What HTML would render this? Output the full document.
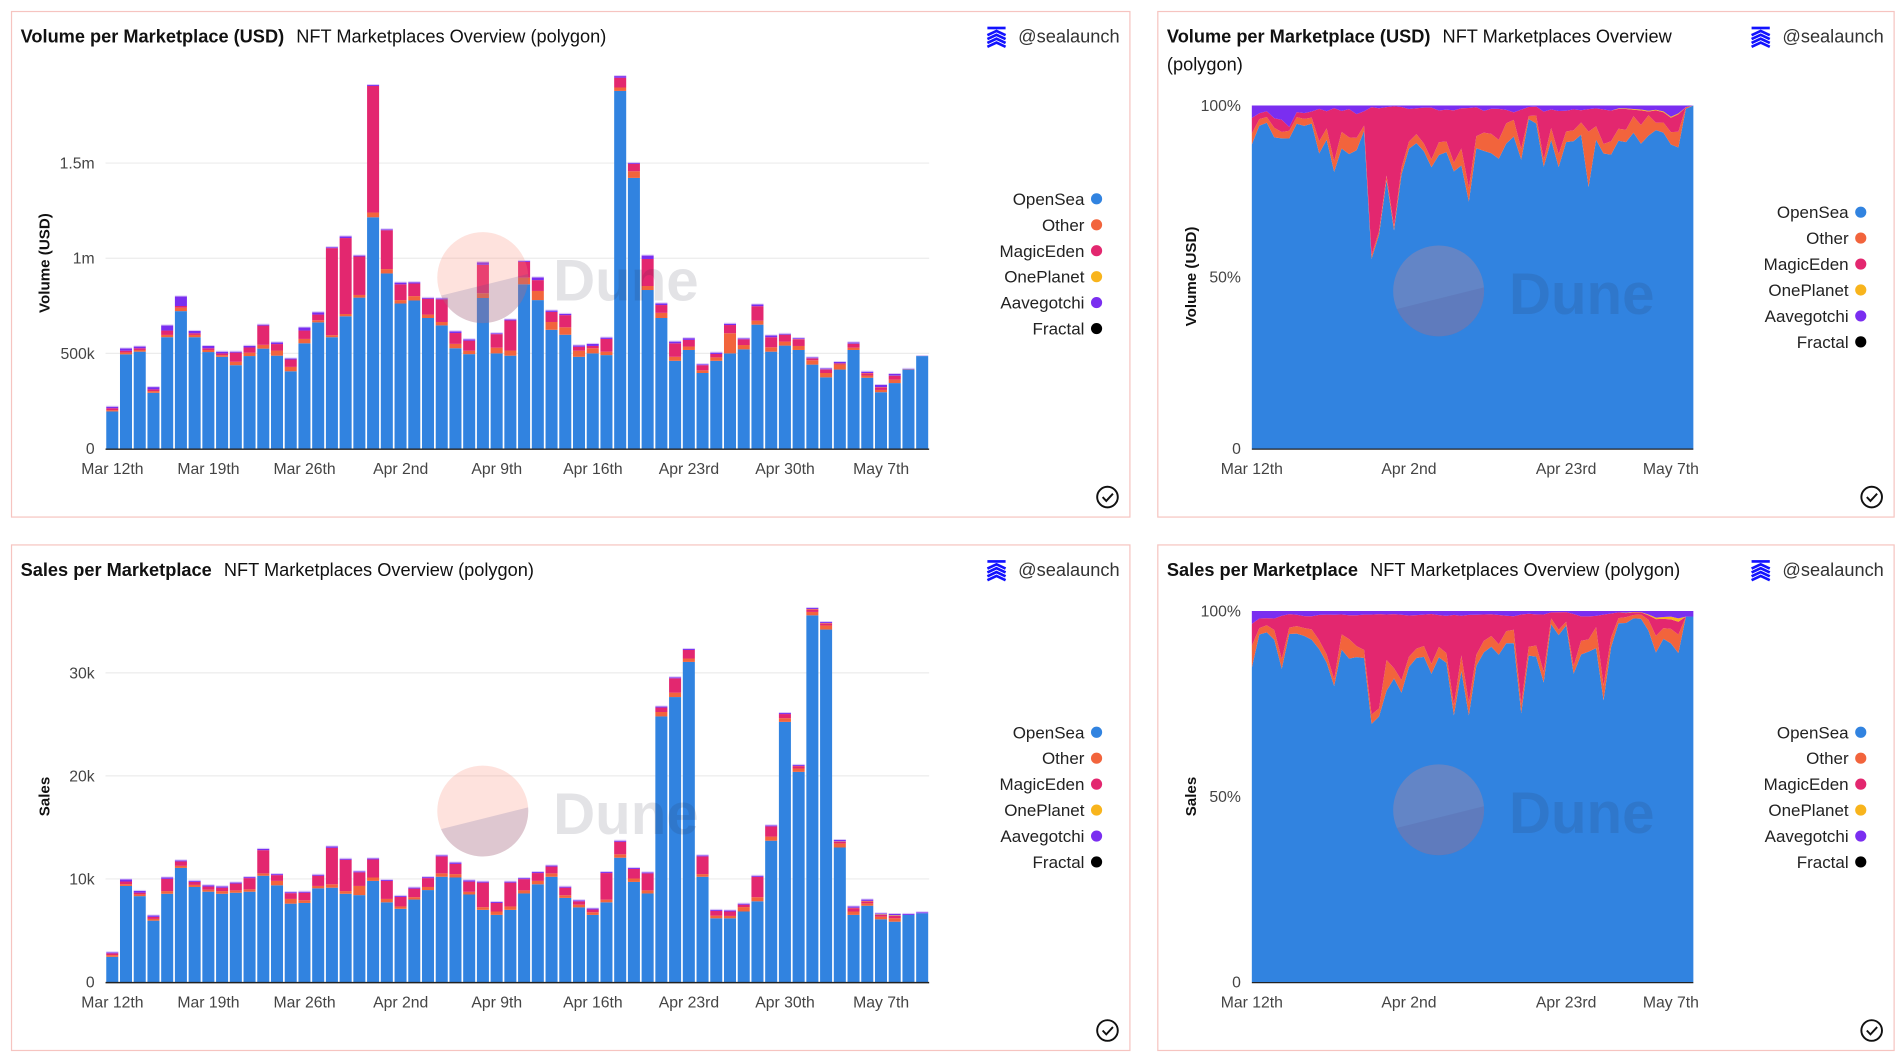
<!DOCTYPE html>
<html><head><meta charset="utf-8">
<style>
html,body{margin:0;padding:0;background:#fff;width:1902px;height:1062px;overflow:hidden}
svg{display:block;font-family:"Liberation Sans",sans-serif}
</style></head>
<body>
<svg id="root" width="1902" height="1062" viewBox="0 0 1568 876" preserveAspectRatio="none" xmlns="http://www.w3.org/2000/svg"></svg>
<script>
// ---- data (volume in thousands USD, sales in thousands) ----
const seriesNames = ["OpenSea","Other","MagicEden","OnePlanet","Aavegotchi","Fractal"];
const seriesColors = ["#3183e0","#f2643c","#e3276f","#f8b41c","#7a2ef0","#000000"];
const volOpenSea = [195,495,509,293,585,722,585,507,482,438,486,525,488,406,553,663,585,695,793,1215,920,762,778,686,647,527,496,791,500,488,863,780,624,598,482,500,491,1879,1422,833,686,461,518,397,461,500,521,651,509,541,518,441,374,415,518,372,296,344,415,486];
const volOther = [7,10,9,9,12,18,12,11,9,18,18,20,27,23,23,11,11,12,14,25,23,18,23,18,18,23,18,25,30,27,35,48,41,39,32,27,18,18,35,21,27,21,18,14,18,106,23,21,23,21,21,23,23,27,12,12,12,18,2,0];
const volMagicEden = [10,9,9,9,23,9,9,9,9,48,27,101,34,39,44,30,457,399,202,665,204,83,66,83,119,57,53,149,71,158,83,57,53,64,21,12,67,51,39,142,41,71,35,27,18,43,30,76,53,35,35,9,18,5,20,12,14,20,0,0];
const volOnePlanet = [0,0,0,0,0,0,0,0,0,0,0,0,0,0,0,0,0,0,0,0,0,0,0,0,0,0,0,0,0,0,0,0,0,0,0,0,0,0,0,0,0,0,0,0,0,0,0,0,0,1,1,1,1,1,1,1,1,1,0,0];
const volAavegotchi = [8,12,9,12,27,50,12,12,9,5,9,5,9,5,16,12,5,9,5,5,5,9,7,5,5,9,7,14,5,5,5,14,7,7,7,11,7,9,5,18,9,9,9,5,7,7,5,9,9,5,5,5,5,7,7,7,11,9,2,0];
const volFractal = new Array(60).fill(0);

const salesOpenSea = [2.44,9.32,8.33,5.95,8.56,11.07,9.22,8.76,8.56,8.66,8.76,10.31,9.38,7.6,7.67,9.09,9.15,8.56,8.43,9.81,7.73,7.1,8.0,8.92,10.21,10.14,8.49,7.0,6.51,7.0,8.59,9.48,10.21,8.16,7.24,6.51,7.73,12.06,9.71,8.59,25.77,27.65,31.06,10.21,6.18,6.18,6.84,7.83,13.71,25.24,20.39,35.58,34.2,13.05,6.51,7.4,6.08,5.85,6.51,6.67];
const salesOther = [.17,.17,.17,.17,.26,.2,.2,.2,.26,.23,.23,.23,.43,.46,.26,.23,.33,.26,.89,.33,.33,.23,.23,.3,.33,.33,.26,.26,.33,.33,.3,.33,.33,.26,.26,.26,.26,.33,.33,.3,.43,.43,.33,.26,.26,.23,.43,.4,.4,.36,.33,.33,.4,.4,.33,.23,.26,.33,0,0];
const salesMagicEden = [.17,.26,.17,.2,1.19,.43,.3,.3,.33,.66,1.09,2.25,.56,.56,.73,.99,3.54,3.04,1.32,1.75,1.75,.93,.83,.86,1.65,.99,.99,2.38,.83,2.31,1.09,.76,.66,.73,.33,.26,2.58,1.22,.93,1.65,.43,1.39,.83,1.72,.46,.43,.23,1.98,.99,.4,.23,.26,.2,.17,.33,.2,.17,.23,0,0];
const salesOnePlanet = [0,0,0,0,0,0,0,0,0,0,0,0,0,0,0,0,0,0,0,0,0,0,0,0,0,0,0,0,0,0,0,0,0,0,0,0,0,0,0,0,0,0,0,0,0,0,0,0,0,0,.02,.03,.03,.03,.03,.04,.05,.06,0,0];
const salesAavegotchi = [.1,.2,.17,.13,.13,.1,.1,.13,.13,.1,.1,.13,.1,.1,.1,.1,.13,.1,.1,.1,.1,.1,.1,.1,.1,.13,.13,.1,.1,.1,.1,.1,.1,.1,.1,.1,.1,.1,.1,.1,.1,.1,.1,.1,.1,.1,.1,.1,.1,.1,.1,.1,.1,.13,.13,.13,.1,.13,.1,.1];
const salesFractal = new Array(60).fill(0);

const volTicks = [0,500,1000,1500];
const volTickLabels = ["0","500k","1m","1.5m"];
const salesTicks = [0,10,20,30];
const salesTickLabels = ["0","10k","20k","30k"];
const pctTicks = [0,0.5,1];
const pctTickLabels = ["0","50%","100%"];
const barXTickIdx = [0,7,14,21,28,35,42,49,56];
const barXTickLabels = ["Mar 12th","Mar 19th","Mar 26th","Apr 2nd","Apr 9th","Apr 16th","Apr 23rd","Apr 30th","May 7th"];
const areaXTickIdx = [0,21,42,56];
const areaXTickLabels = ["Mar 12th","Apr 2nd","Apr 23rd","May 7th"];

const NS = "http://www.w3.org/2000/svg";
const root = document.getElementById("root");
function el(tag, attrs, parent){ const e=document.createElementNS(NS,tag); for(const k in attrs) e.setAttribute(k,attrs[k]); (parent||root).appendChild(e); return e; }

function panel(x,y,w,h,title,sub,wrap,name){
  const g=el("g",{});
  
  
  const r=el("rect",{x:x+0.5,y:y+0.5,width:w,height:h,fill:"#fff",stroke:"#f6c4c0","stroke-width":1},g);
  
  
  const t=el("text",{x:x+8,y:y+26,"font-size":15,fill:"#111"},g);
  
  
  const a=el("tspan",{"font-weight":"bold"},t); a.textContent=title;
  if(!wrap){ const b=el("tspan",{dx:10},t); b.textContent=sub; }
  else {
    const b=el("tspan",{dx:10},t); b.textContent=sub[0];
    const c=el("text",{x:x+8,y:y+49,"font-size":15,fill:"#111"},g); c.textContent=sub[1];
    
    
  }
  const au=el("g",{},g);
  
  
  const ix=x+w-117, iy=y+13;
  el("rect",{x:ix,y:iy,width:15,height:2.2,fill:"#1212ff"},au);
  for(let k=0;k<4;k++) el("path",{d:`M${ix} ${iy+7+k*3.2} L${ix+7.5} ${iy+3.5+k*3.2} L${ix+15} ${iy+7+k*3.2}`,fill:"none",stroke:"#1212ff","stroke-width":2.2},au);
  const at=el("text",{x:x+w-8,y:y+26,"font-size":15,fill:"#333","text-anchor":"end"},au); at.textContent="@sealaunch";
  const ck=el("g",{},g);
  
  
  el("circle",{cx:x+w-18,cy:y+h-16,r:8.5,fill:"none",stroke:"#111","stroke-width":1.6},ck);
  el("path",{d:`M${x+w-22} ${y+h-16} l3 3.2 l5.5 -6`,fill:"none",stroke:"#111","stroke-width":1.6},ck);
}

function legend(xr,y0){
  const g=el("g",{});
  
  
  seriesNames.forEach((n,i)=>{
    const e=el("g",{},g);
    
    
    const t=el("text",{x:xr,y:y0+i*21.4+5,"font-size":14,fill:"#222","text-anchor":"end"},e); t.textContent=n;
    el("circle",{cx:xr+10,cy:y0+i*21.4,r:4.6,fill:seriesColors[i]},e);
  });
}

function watermark(cx,cy){
  const g=el("g",{});
  
  
  el("circle",{cx:cx,cy:cy,r:37.5,fill:"rgba(250,140,120,0.25)"},g);
  const a1=Math.PI*0.87, a2=-0.08;
  const x1=cx+37.5*Math.cos(a1), y1=cy+37.5*Math.sin(a1);
  const x2=cx+37.5*Math.cos(a2), y2=cy+37.5*Math.sin(a2);
  el("path",{d:`M${x1} ${y1} L${x2} ${y2} A37.5 37.5 0 0 1 ${x1} ${y1} Z`,fill:"rgba(80,80,150,0.18)"},g);
  const t=el("text",{x:cx+58,y:cy+19,"font-size":48,"font-weight":"bold",fill:"rgba(40,40,60,0.13)"},g); t.textContent="Dune";
}

function yTitle(x,cy,txt){
  const t=el("text",{x:x,y:cy,"font-size":12.5,"font-weight":"bold",fill:"#111","text-anchor":"middle",transform:`rotate(-90 ${x} ${cy})`});
  
  
  t.textContent=txt;
}

function barChart(series, ticks, tickLabels, yPerUnit, base, name){
  const x0=87, x1=766, n=series[0].length, bw=(x1-x0)/n;
  const yS=v=>base - v*yPerUnit;
  const xS=i=>x0+i*bw;
  ticks.forEach((tv,k)=>{
    if(tv>0){ const gl=el("line",{x1:x0,x2:x1,y1:yS(tv),y2:yS(tv),stroke:"#ececec","stroke-width":1});
      
       }
    const t=el("text",{x:78,y:yS(tv)+4.5,"font-size":13,fill:"#444","text-anchor":"end"});
    
    
    t.textContent=tickLabels[k];
  });
  const g=el("g",{});
  
  
  for(let i=0;i<n;i++){
    let acc=0;
    series.forEach((s,si)=>{
      const v=s[i]; if(v<=0) return;
      const r=el("rect",{x:xS(i)+0.6,y:yS(acc+v),width:bw-1.4,height:v*yPerUnit,fill:seriesColors[si]},g);
      
      
      acc+=v;
    });
    const cap=el("rect",{x:xS(i)+0.6,y:yS(acc)-0.8,width:bw-1.4,height:0.8,fill:"#d8c8f7"},g);
    
    
  }
  const ax=el("line",{x1:x0,x2:x1,y1:base+0.5,y2:base+0.5,stroke:"#222","stroke-width":1.2});
  
  
  barXTickIdx.forEach((ix,k)=>{
    const t=el("text",{x:xS(ix)+bw/2,y:base+21,"font-size":13,fill:"#444","text-anchor":"middle"});
    
    
    t.textContent=barXTickLabels[k];
  });
}

function areaChart(series, top, base, name){
  const x0=1032, x1=1396, n=series[0].length;
  const xS=i=>x0+i*(x1-x0)/(n-1);
  const yS=p=>base-p*(base-top);
  const totals=[]; for(let i=0;i<n;i++){ let t=0; series.forEach(s=>t+=s[i]); totals.push(t||1); }
  const g=el("g",{});
  
  
  let lower=new Array(n).fill(0);
  series.forEach((s,si)=>{
    const upper=lower.map((l,i)=>l+s[i]/totals[i]);
    let d="M"+xS(0)+" "+yS(upper[0]);
    for(let i=1;i<n;i++) d+=" L"+xS(i)+" "+yS(upper[i]);
    for(let i=n-1;i>=0;i--) d+=" L"+xS(i)+" "+yS(lower[i]);
    d+=" Z";
    const p=el("path",{d:d,fill:seriesColors[si]},g);
    
    
    lower=upper;
  });
  pctTicks.forEach((pv,k)=>{
    const t=el("text",{x:1023,y:yS(pv)+4.5,"font-size":13,fill:"#444","text-anchor":"end"});
    
    
    t.textContent=pctTickLabels[k];
  });
  const ax=el("line",{x1:x0,x2:x1,y1:base+0.5,y2:base+0.5,stroke:"#222","stroke-width":1});
  
  
  areaXTickIdx.forEach((ix,k)=>{
    const t=el("text",{x:xS(ix),y:base+21,"font-size":13,fill:"#444","text-anchor":"middle"});
    
    
    t.textContent=areaXTickLabels[k];
  });
}

const volSeries=[volOpenSea,volOther,volMagicEden,volOnePlanet,volAavegotchi,volFractal];
const salesSeries=[salesOpenSea,salesOther,salesMagicEden,salesOnePlanet,salesAavegotchi,salesFractal];

panel(9,9,922,417,"Volume per Marketplace (USD)","NFT Marketplaces Overview (polygon)",false,"volume-bar-panel");
barChart(volSeries,volTicks,volTickLabels,78.5/500,370,"volume-bars");
yTitle(41,217,"Volume (USD)");
legend(894,164);
watermark(398,229);

panel(954,9,607,417,"Volume per Marketplace (USD)",["NFT Marketplaces Overview","(polygon)"],true,"volume-share-panel");
areaChart(volSeries,87,370,"volume-share-area");
yTitle(986,228,"Volume (USD)");
legend(1524,175);
watermark(1186,240);

panel(9,449,922,417,"Sales per Marketplace","NFT Marketplaces Overview (polygon)",false,"sales-bar-panel");
barChart(salesSeries,salesTicks,salesTickLabels,8.5,810,"sales-bars");
yTitle(41,657,"Sales");
legend(894,604);
watermark(398,669);

panel(954,449,607,417,"Sales per Marketplace","NFT Marketplaces Overview (polygon)",false,"sales-share-panel");
areaChart(salesSeries,504,810,"sales-share-area");
yTitle(986,657,"Sales");
legend(1524,604);
watermark(1186,668);
</script>
</body></html>
